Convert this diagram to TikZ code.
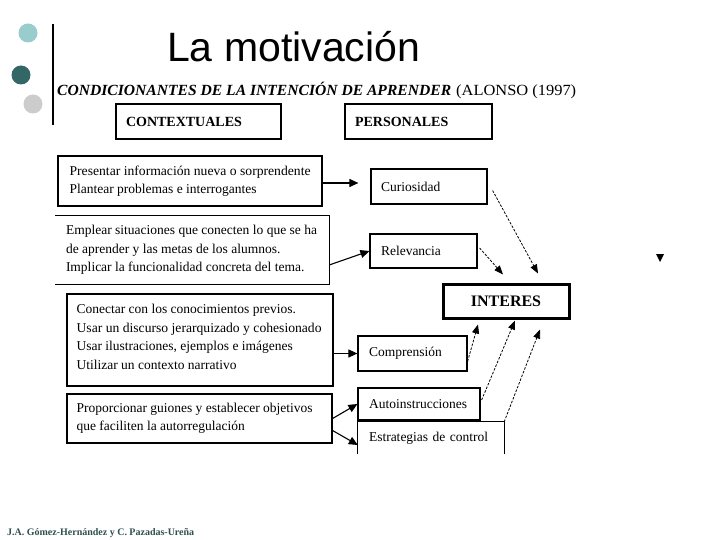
\documentclass[tikz,border=0pt]{standalone}
\usepackage{fontspec}
\usepackage{graphicx}
\setmainfont{Liberation Serif}
\newfontfamily\arialfont{Liberation Sans}
\usetikzlibrary{arrows.meta}
\definecolor{circA}{HTML}{99CCCC}
\definecolor{circB}{HTML}{336666}
\definecolor{circC}{HTML}{CCCCCC}
\definecolor{footc}{HTML}{2F4F4F}
\newcommand{\fitline}[2]{\resizebox{#1}{\height}{#2}}
\tikzset{
  frame/.style={draw, line width=1.2pt, inner sep=0pt},
  noframe/.style={inner sep=0pt},
  btxt/.style={anchor=west, inner sep=0pt, align=left, font=\fontsize{13.5}{18.5}\selectfont},
  lbox/.style={draw, line width=1.2pt, inner ysep=0pt, align=left, font=\fontsize{13.5}{18.5}\selectfont},
  txtbox/.style={inner ysep=0pt, align=left, font=\fontsize{13.5}{18.5}\selectfont},
  headbox/.style={draw, line width=2.5pt, inner ysep=0pt, align=left, font=\fontsize{14}{16}\selectfont\bfseries},
  intbox/.style={draw, line width=3pt, inner sep=0pt, font=\fontsize{16}{18}\selectfont\bfseries},
  sarr/.style={line width=1.1pt, -{Triangle[length=9pt,width=8pt]}},
  darr/.style={line width=0.8pt, dash pattern=on 2.5pt off 1.5pt, -{Triangle[length=9pt,width=7pt]}},
  dotc/.style={circle, minimum size=19pt, inner sep=0pt},
}
\begin{document}
\begin{tikzpicture}[x=1pt,y=-1pt]
\useasboundingbox[fill=white] (0,0) rectangle (720,540);

% bullets and bar
\node[dotc, fill=circA] (c1) at (28,33) {};
\node[dotc, fill=circB] (c2) at (21,75) {};
\node[dotc, fill=circC] (c3) at (33,104) {};
\draw[line width=2.5pt] (53,24) -- (53,125);

% title
\node[anchor=base west, inner sep=0pt, font=\arialfont\fontsize{41}{41}\selectfont] (title) at (167,62) {La motivación};
\node[anchor=base west, inner sep=0pt] (sub) at (57,96)
  {\fitline{394pt}{\fontsize{15.5}{15.5}\selectfont\bfseries\itshape CONDICIONANTES DE LA INTENCIÓN DE APRENDER}};
\node[anchor=base west, inner sep=0pt] (ref) at (456,96)
  {\fitline{120pt}{\fontsize{15.5}{15.5}\selectfont (ALONSO (1997)}};

% header boxes
\node[headbox, inner xsep=10pt, minimum width=165pt, text width=145pt, minimum height=35pt] (ctx) at (198.5,121.5) {CONTEXTUALES};
\node[headbox, inner xsep=10pt, minimum width=147pt, text width=127pt, minimum height=35pt] (per) at (418.5,121.5) {PERSONALES};

% left boxes
\node[frame, minimum width=264pt, minimum height=50pt] (b1) at (190,181) {};
\node[btxt] (b1t) at ([xshift=12pt]b1.west)
  {\fitline{241pt}{Presentar información nueva o sorprendente}\\Plantear problemas e interrogantes};

\node[noframe, minimum width=274pt, minimum height=68pt] (b2) at (192,250) {};
\draw[line width=1.2pt] (b2.north west) -- (b2.north east) -- (b2.south east) -- (b2.south west);
\node[btxt] (b2t) at ([xshift=11pt]b2.west)
  {\fitline{251pt}{Emplear situaciones que conecten lo que se ha}\\de aprender y las metas de los alumnos.\\Implicar la funcionalidad concreta del tema.};

\node[frame, minimum width=266pt, minimum height=92pt] (b3) at (200,340) {};
\node[btxt] (b3t) at ([xshift=10pt,yshift=3pt]b3.west)
  {Conectar con los conocimientos previos.\\\fitline{245pt}{Usar un discurso jerarquizado y cohesionado}\\Usar ilustraciones, ejemplos e imágenes\\Utilizar un contexto narrativo};

\node[frame, minimum width=265pt, minimum height=49pt] (b4) at (199.5,418.5) {};
\node[btxt] (b4t) at ([xshift=10pt]b4.west)
  {\fitline{236pt}{Proporcionar guiones y establecer objetivos}\\que faciliten la autorregulación};

% right boxes
\node[lbox, inner xsep=10pt, minimum width=116pt, text width=96pt, minimum height=35pt] (cur) at (429,186.5) {Curiosidad};
\node[lbox, inner xsep=11pt, minimum width=107pt, text width=85pt, minimum height=34pt] (rel) at (423.5,251) {Relevancia};
\node[intbox, minimum width=126pt, minimum height=34pt] (int) at (506,301) {INTERES};
\node[lbox, inner xsep=11pt, minimum width=109pt, text width=87pt, minimum height=35pt] (comp) at (412.5,353.5) {Comprensión};
\node[lbox, inner xsep=11pt, minimum width=122pt, text width=100pt, minimum height=32pt] (aut) at (419,404) {Autoinstrucciones};
\node[txtbox, inner xsep=11pt, minimum width=146pt, text width=124pt, minimum height=32pt] (est) at (431,438) {Estrategias de control};
\draw[line width=1.2pt] (est.south west) -- (est.north west) -- (est.north east) -- (est.south east);

% solid arrows
\draw[sarr, shorten >=12pt] ([yshift=-2pt]b1.east) -- ([yshift=-2pt]b1.east -| cur.west);
\draw[sarr] ([yshift=-15pt]b2.east) -- (rel.west);
\draw[sarr] (b3.east |- comp.west) -- (comp.west);
\draw[sarr] (b4.east) -- (aut.west);
\draw[sarr] ([yshift=-12pt]b4.east) -- ([yshift=-7pt]est.west);

% dashed arrows to INTERES
\draw[darr] ([xshift=5pt,yshift=-4pt]cur.east) -- ([xshift=32pt,yshift=9pt]int.north);
\draw[darr] ([xshift=2pt,yshift=3pt]rel.east) -- ([xshift=-3pt,yshift=8pt]int.north);
\draw[darr] ([yshift=-8pt]comp.east) -- ([xshift=-28pt,yshift=-5pt]int.south);
\draw[darr] ([xshift=1pt,yshift=4pt]aut.east) -- ([xshift=9pt,yshift=-1pt]int.south);
\draw[darr] (est.north east) -- ([xshift=34pt,yshift=-10pt]int.south);

% small triangle mark
\fill (656,254) -- (664,254) -- (660,262) -- cycle;

% footer
\node[anchor=base west, inner sep=0pt, text=footc] (foot) at (7,535)
  {\fitline{187pt}{\fontsize{10}{10}\selectfont\bfseries J.A. Gómez-Hernández y C. Pazadas-Ureña}};
\end{tikzpicture}
\end{document}
